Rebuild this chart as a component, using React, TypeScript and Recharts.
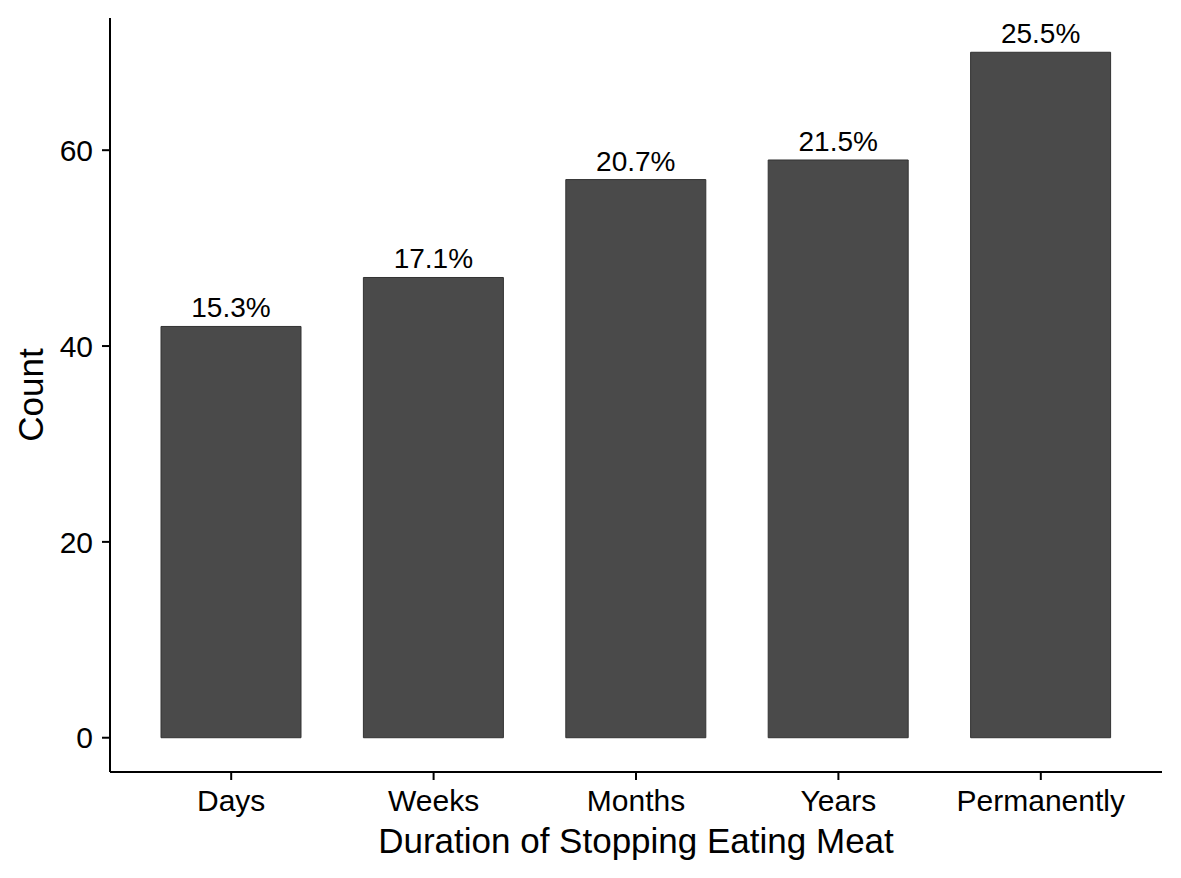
import React from 'react';
import { BarChart, Bar, XAxis, YAxis, LabelList } from 'recharts';

const categories = ['Days', 'Weeks', 'Months', 'Years', 'Permanently'];
const counts = [42, 47, 57, 59, 70];
const percentLabels = ['15.3%', '17.1%', '20.7%', '21.5%', '25.5%'];
const yTicks = [0, 20, 40, 60];

const data = categories.map((c, i) => ({ name: c, count: counts[i], pct: percentLabels[i] }));

const FONT = '"Liberation Sans", Arial, Helvetica, sans-serif';

const XTitle = (props: any) => {
  const vb = props.viewBox || {};
  return (
    <text x={vb.x + vb.width / 2} y={853} textAnchor="middle" fontSize={35} fontFamily={FONT} fill="#000">
      Duration of Stopping Eating Meat
    </text>
  );
};

const YTitle = (props: any) => {
  const vb = props.viewBox || {};
  const cy = vb.y + vb.height / 2;
  const x = 43;
  return (
    <text x={x} y={cy} textAnchor="middle" fontSize={35} fontFamily={FONT} fill="#000" transform={`rotate(-90, ${x}, ${cy})`}>
      Count
    </text>
  );
};

export default function App() {
  return (
    <div style={{ position: 'absolute', left: 0, top: 0, background: '#fff' }}>
      <BarChart width={1181} height={878} data={data} margin={{ top: 18, right: 19, bottom: 0, left: 0 }}>
        <XAxis
          dataKey="name"
          height={106}
          padding={{ left: 20, right: 20 }}
          tickSize={8}
          tickMargin={10}
          axisLine={{ stroke: '#000', strokeWidth: 2 }}
          tickLine={{ stroke: '#000', strokeWidth: 2 }}
          tick={{ fontSize: 30, fontFamily: FONT, fill: '#000' }}
          label={<XTitle />}
        />
        <YAxis
          width={110}
          domain={[-3.5, 73.5]}
          ticks={yTicks}
          allowDataOverflow
          tickSize={8}
          tickMargin={9}
          axisLine={{ stroke: '#000', strokeWidth: 2 }}
          tickLine={{ stroke: '#000', strokeWidth: 2 }}
          tick={{ fontSize: 30, fontFamily: FONT, fill: '#000' }}
          label={<YTitle />}
        />
        <Bar dataKey="count" barSize={140} fill="#4a4a4a" stroke="#333" strokeWidth={1} isAnimationActive={false}>
          <LabelList dataKey="pct" position="top" offset={9} fontSize={28} fontFamily={FONT} fill="#000" />
        </Bar>
      </BarChart>
    </div>
  );
}
